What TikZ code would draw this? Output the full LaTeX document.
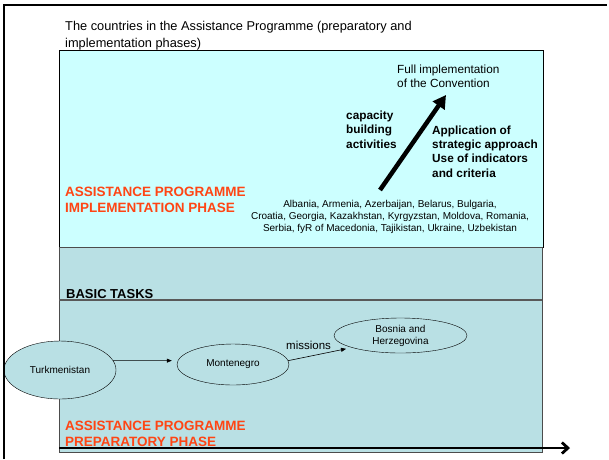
\documentclass[tikz,border=0pt]{standalone}
\usepackage{fontspec}
\setmainfont{Liberation Sans}
\usetikzlibrary{arrows.meta,shapes.geometric}
\definecolor{implcyan}{RGB}{204,255,255}
\definecolor{prepteal}{RGB}{185,224,228}
\definecolor{phaseorange}{RGB}{255,69,20}
\tikzset{
  phaselabel/.style={anchor=base west,inner sep=0pt,align=left,text=phaseorange,font=\fontsize{13.5}{16}\selectfont\bfseries},
  boldnote/.style={anchor=base west,inner sep=0pt,align=left,font=\fontsize{11.8}{14.3}\selectfont\bfseries},
  plainnote/.style={anchor=base west,inner sep=0pt,align=left,font=\fontsize{11.8}{14}\selectfont},
  country/.style={ellipse,draw,fill=prepteal,inner sep=0pt,align=center,font=\fontsize{10}{12}\selectfont},
  flowarrow/.style={-{Triangle[length=5pt,width=4pt]},line width=0.6pt,shorten >=6pt}
}
\begin{document}
\begin{tikzpicture}[x=1pt,y=-1pt]
   \useasboundingbox (0,0) rectangle (609,459);
   \fill[white] (0,0) rectangle (609,459);

   % implementation phase and basic tasks boxes
   \draw[fill=implcyan,line width=0.8pt] (59,50) rectangle (543,247);
   \draw[fill=prepteal,draw=black!70,line width=0.8pt] (59,247) rectangle (542,452);
   \draw[black!65,line width=1.2pt] (59,300) -- (542,300);

   % multi-line nodes sit on their last baseline
   \node[plainnote,font=\fontsize{12.8}{17}\selectfont] (title) at (65,47) {The countries in the Assistance Programme (preparatory and\\implementation phases)};

   \node[plainnote] (fullimpl) at (397,87) {Full implementation\\of the Convention};
   \node[boldnote] (capacity) at (346,148) {capacity\\building\\activities};
   \node[boldnote] (strategic) at (432,177) {Application of\\strategic approach\\Use of indicators\\and criteria};
   \node[phaselabel] (implphase) at (65,212) {ASSISTANCE PROGRAMME\\IMPLEMENTATION PHASE};
   \node[anchor=base,inner sep=0pt,align=center,font=\fontsize{10}{12}\selectfont] (countrylist) at (390,231.5) {Albania, Armenia, Azerbaijan, Belarus, Bulgaria,\\Croatia, Georgia, Kazakhstan, Kyrgyzstan, Moldova, Romania,\\Serbia, fyR of Macedonia, Tajikistan, Ukraine, Uzbekistan};

   \coordinate (growstart) at (380,190);
   \coordinate (growtip) at (446,95);
   \draw[line width=4.5pt,-{Triangle[length=13pt,width=14pt]}] (growstart) -- (growtip);

   \node[anchor=base west,inner sep=0pt,font=\fontsize{13}{15}\selectfont\bfseries] (basictasks) at (66,298.5) {BASIC TASKS};

   % preparatory phase
   \node[country,minimum width=112pt,minimum height=58pt] (turkmen) at (60,370) {Turkmenistan};
   \node[country,minimum width=112pt,minimum height=41pt] (monteneg) at (233,364.5) {Montenegro};
   \node[country,minimum width=133pt,minimum height=35pt] (bosnia) at (400.5,335.5) {Bosnia and\\Herzegovina};
   \draw[flowarrow] (turkmen.10) -- (monteneg.176);
   \draw[flowarrow] (monteneg.4) -- (bosnia.194);
   \node[plainnote,font=\fontsize{11.5}{14}\selectfont] (missions) at (286,349) {missions};

   \node[phaselabel] (prepphase) at (65,446) {ASSISTANCE PROGRAMME\\PREPARATORY PHASE};

   \coordinate (timestart) at (59,448);
   \coordinate (timeend) at (570,448);
   \draw[line width=2.8pt,-{Straight Barb[length=6pt,width=11pt]}] (timestart) -- (timeend);

   % outer frame
   \draw[line width=2pt] (4,459) -- (4,5) -- (607,5);
\end{tikzpicture}
\end{document}
